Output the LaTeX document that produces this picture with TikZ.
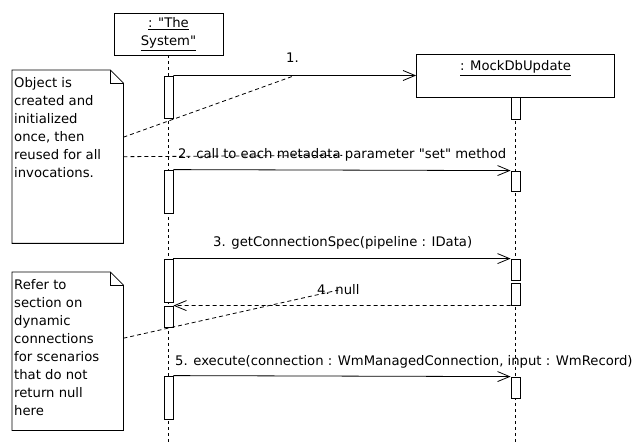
\documentclass[tikz,border=0pt]{standalone}
\usepackage{fontspec}
\setmainfont{DejaVu Sans}
\usetikzlibrary{arrows.meta,calc,positioning}

\begin{document}
\begin{tikzpicture}[x=1pt,y=-1pt,
  every node/.style={font=\fontsize{13.2}{18}\selectfont},
  obj/.style={draw,line width=0.8pt,fill=white,align=center,inner sep=0pt},
  act/.style={draw,line width=0.8pt,fill=white,minimum width=9pt,inner sep=0pt},
  msg/.style={line width=0.8pt,-{Straight Barb[length=12pt,width=10pt]}},
  ret/.style={msg,dash pattern=on 4pt off 3pt},
  life/.style={line width=0.8pt,dash pattern=on 3pt off 3pt},
  link/.style={line width=0.8pt,dash pattern=on 4pt off 3pt},
  lbl/.style={inner sep=0pt,anchor=base west},
  notebox/.style={minimum width=111pt,inner sep=0pt,anchor=north west},
  notetext/.style={inner sep=0pt,anchor=north west,align=left}]
\useasboundingbox (0,0) rectangle (634,443);
\coordinate (bottom) at (0,443);

% Objects and lifelines
\node[obj,minimum width=109pt,minimum height=42pt] (sys) at (168.5,34) {\underline{: \textquotedbl The}\\\underline{System\textquotedbl}};
\node[obj,minimum width=198pt,minimum height=43pt] (mock) at (515.5,75.5) {};
\node[inner sep=0pt,anchor=north] (mockname) at ($(mock.north)+(0,7)$) {\underline{: MockDbUpdate}};
\draw[life] (sys.south) -- (sys.south |- bottom);
\draw[life] (mock.south) -- (mock.south |- bottom);

% Activations
\node[act,minimum height=42pt] (a1) at (168.5,97) {};
\node[act,minimum height=43pt] (a2) at (168.5,191.5) {};
\node[act,minimum height=43pt] (a3) at (168.5,280.5) {};
\node[act,minimum height=21pt] (a4) at (168.5,316.5) {};
\node[act,minimum height=43pt] (a5) at (168.5,397.5) {};
\node[act,minimum height=22pt] (b1) at (515.5,108) {};
\node[act,minimum height=20pt] (b2) at (515.5,181) {};
\node[act,minimum height=21pt] (b3) at (515.5,269.5) {};
\node[act,minimum height=22pt] (b4) at (515.5,294) {};
\node[act,minimum height=21pt] (b5) at (515.5,387.5) {};

% Messages
\draw[msg] (a1.north east) -- (mock.west);
\draw[msg] (a2.north east) -- (b2.north west);
\draw[msg] (a3.north east) -- (b3.north west);
\draw[ret] (b4.south west) -- (a4.north east);
\draw[msg] (a5.north east) -- (b5.north west);
\node[lbl] (l1) at (286,63) {1.};
\node[lbl] (l2) at (178,159) {2. call to each metadata parameter \textquotedbl set\textquotedbl{} method};
\node[lbl] (l3) at (213,247) {3. getConnectionSpec(pipeline : IData)};
\node[lbl] (l4) at (317,295) {4. null};
\node[lbl] (l5) at (175,365) {5. execute(connection : WmManagedConnection, input : WmRecord)};

% Notes
\node[notebox,minimum height=173pt] (n1) at (12,70) {};
\draw[line width=0.8pt,fill=white] (n1.north west) -- ($(n1.north east)+(-13,0)$) -- ($(n1.north east)+(0,13)$)
  -- (n1.south east) -- (n1.south west) -- cycle;
\draw[line width=0.8pt] ($(n1.north east)+(-13,0)$) |- ($(n1.north east)+(0,13)$);
\node[notetext] (n1text) at ($(n1.north west)+(2,7)$) {Object is\\created and\\initialized\\once, then\\reused for all\\invocations.};

\node[notebox,minimum height=158pt] (n2) at (12,272) {};
\draw[line width=0.8pt,fill=white] (n2.north west) -- ($(n2.north east)+(-13,0)$) -- ($(n2.north east)+(0,13)$)
  -- (n2.south east) -- (n2.south west) -- cycle;
\draw[line width=0.8pt] ($(n2.north east)+(-13,0)$) |- ($(n2.north east)+(0,13)$);
\node[notetext] (n2text) at ($(n2.north west)+(2,7)$) {Refer to\\section on\\dynamic\\connections\\for scenarios\\that do not\\return null\\here};

% Note links
\draw[link] ($(n1.east)+(0,-19.5)$) -- ($(a1.north east)!0.5!(mock.west)$);
\draw[link] (n1.east) -- (l2.center);
\draw[link] ($(n2.east)+(0,-13)$) -- (l4.center);
\end{tikzpicture}
\end{document}
